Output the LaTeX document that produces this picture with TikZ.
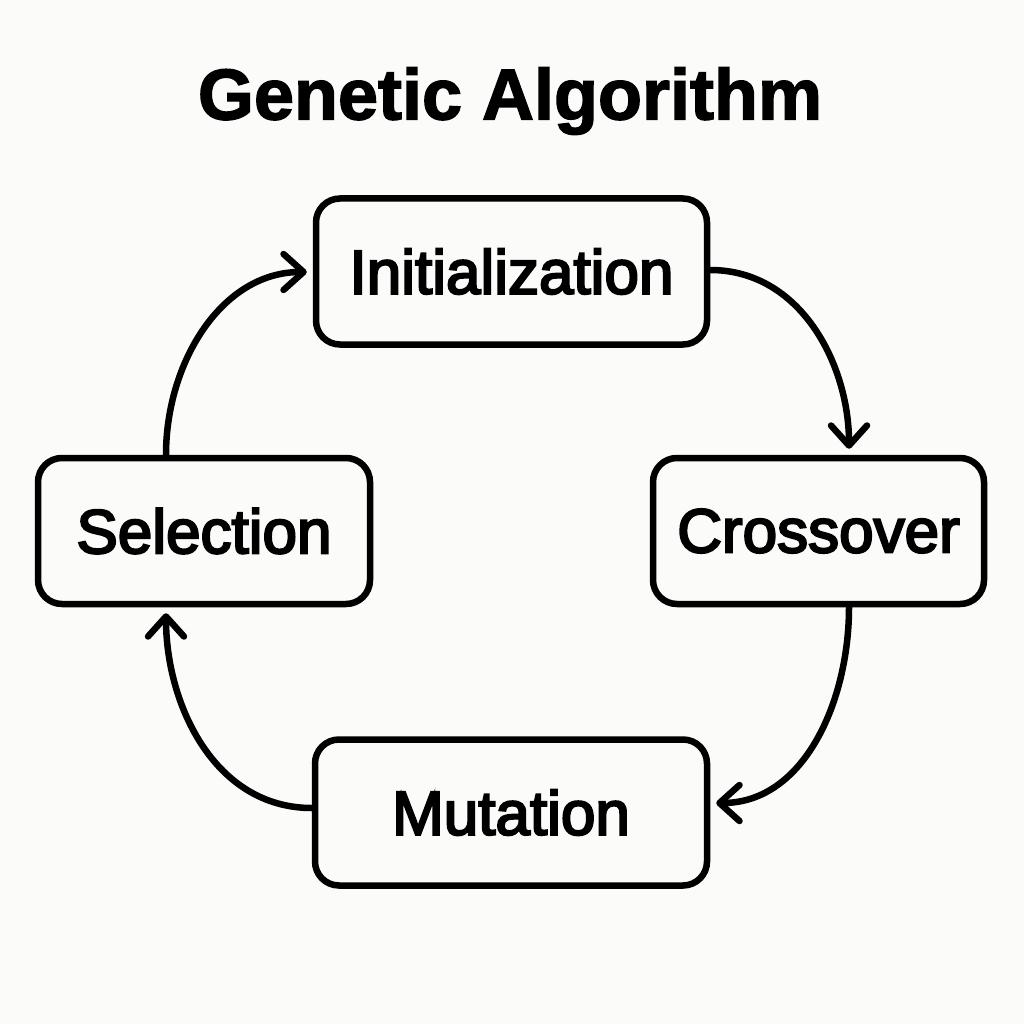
\documentclass[tikz,border=0pt]{standalone}
\usepackage{fontspec}
\setmainfont{Liberation Sans}
\newcommand\heavy[2]{\special{pdf:literal direct 2 Tr #1 w}#2\special{pdf:literal direct 0 Tr}}
\usetikzlibrary{arrows.meta}
\definecolor{bg}{RGB}{251,251,249}
\begin{document}
\begin{tikzpicture}[x=1pt,y=-1pt,
  stagebox/.style={draw=black, line width=6.5pt, rounded corners=24pt, inner sep=0pt,
    minimum height=146pt, font=\fontsize{62}{70}\selectfont, text=black},
  flow/.style={line width=6.5pt, line cap=round,
    -{Straight Barb[length=20pt,width=36pt,line cap=round,line join=round]}, shorten >=6pt}]
\fill[bg] (0,0) rectangle (1024,1024);
\useasboundingbox (0,0) rectangle (1024,1024);
\node (title) at (510,101) {\bfseries\fontsize{72}{80}\selectfont\heavy{1.4}{Genetic Algorithm}};
\node[stagebox, minimum width=391pt] (init) at (511.5,271.5) {\heavy{2.2}{Initialization}};
\node[stagebox, minimum width=332pt] (sel) at (204,531) {\heavy{2.2}{Selection}};
\node[stagebox, minimum width=331pt] (cross) at (818.5,531) {\heavy{2.2}{Crossover}};
\node[stagebox, minimum width=392pt] (mut) at (511,812.5) {\heavy{2.2}{Mutation}};
\draw[flow] (init.east |- 0,270) to[out=0,in=90] (cross.north -| 849,0);
\draw[flow] (cross.south -| 849,0) to[out=-90,in=0] (mut.east |- 0,803);
\draw[flow] (mut.west |- 0,808) to[out=180,in=-90] (sel.south -| 166,0);
\draw[flow] (sel.north -| 166,0) to[out=90,in=180] (init.west |- 0,272);
\end{tikzpicture}
\end{document}
